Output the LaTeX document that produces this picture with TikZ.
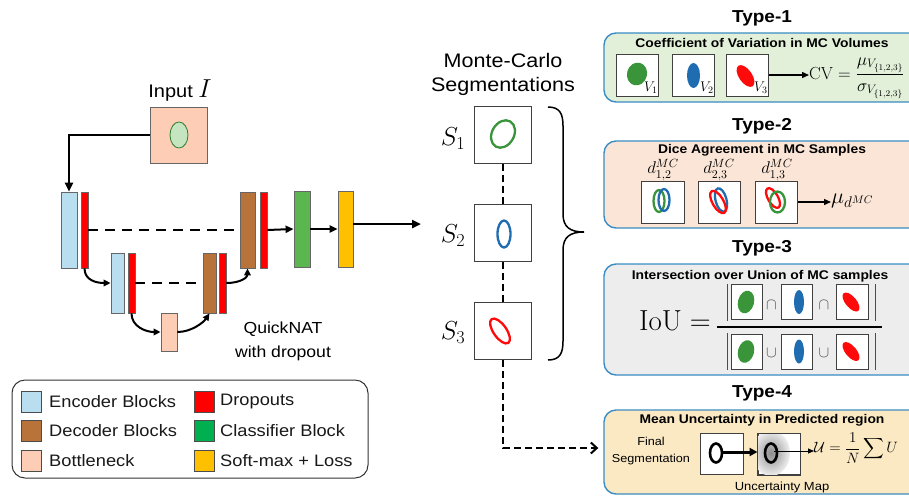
\RequirePackage{fix-cm}
\documentclass[tikz,border=0pt]{standalone}
\usepackage{amsmath}
\usepackage[no-math]{fontspec}
\setmainfont[FakeStretch=1.1]{Liberation Sans}
\usetikzlibrary{arrows.meta,calc}
\definecolor{encC}{HTML}{B8DEF0}
\definecolor{decC}{HTML}{B8733A}
\definecolor{botC}{HTML}{FDCDB5}
\definecolor{clsC}{HTML}{5CB650}
\definecolor{clsL}{HTML}{00B050}
\definecolor{smxC}{HTML}{FFC000}
\definecolor{drpC}{HTML}{FF0000}
\definecolor{ellG}{HTML}{3A943A}
\definecolor{ellB}{HTML}{1F6DB0}
\definecolor{ellR}{HTML}{FF0A0A}
\definecolor{pBord}{HTML}{3A8CC4}
\definecolor{p1C}{HTML}{E2F0D9}
\definecolor{p2C}{HTML}{FBE5D6}
\definecolor{p3C}{HTML}{EDEDED}
\definecolor{p4C}{HTML}{FBE9C4}
\definecolor{inEll}{HTML}{C5E4C0}
\begin{document}
\begin{tikzpicture}[x=1pt,y=-1pt,
  blk/.style={draw=black!60, line width=0.8pt, inner sep=0pt},
  sq/.style={draw=black!70, line width=1pt, minimum width=20pt, minimum height=21pt, inner sep=0pt},
  lg/.style={anchor=west, font=\fontsize{16.6}{19}\selectfont, inner sep=0pt, text=black!90},
  panel/.style={draw=pBord, line width=1.4pt, rounded corners=12pt, minimum width=321pt, inner sep=0pt},
  ptitle/.style={font=\bfseries\fontsize{12.6}{15}\selectfont, inner sep=0pt},
  ttl/.style={font=\bfseries\fontsize{17.3}{20}\selectfont, inner sep=0pt},
  imgbox/.style={draw=black!75, fill=white, line width=1pt, inner sep=0pt},
  arr/.style={line width=2.5pt, -{Triangle[length=9pt,width=8pt]}},
  arrm/.style={line width=2pt, -{Triangle[length=8pt,width=7pt]}},
  arrc/.style={line width=2pt, -{Triangle[length=7pt,width=6.5pt]}},
  arrp/.style={line width=1.3pt, -{Triangle[length=7pt,width=6pt]}},
  dsh/.style={line width=2.5pt, dash pattern=on 10pt off 7pt},
  dshb/.style={line width=2pt, dash pattern=on 7pt off 4pt},
  mlbl/.style={font=\fontsize{26}{26}\selectfont, inner sep=0pt},
  dlbl/.style={font=\fontsize{17}{17}\selectfont, inner sep=0pt},
  vlbl/.style={font=\fontsize{14}{14}\selectfont, inner sep=0pt},
  setop/.style={font=\fontsize{16}{16}\selectfont, text=black!70, inner sep=0pt},
  oring/.style={line width=2.3pt}
]
\clip (0,0) rectangle (909,496);
\fill[white] (0,0) rectangle (909,496);

% ---------------- network ----------------
\node[blk, fill=botC, minimum width=57pt, minimum height=56pt] (inp) at (178.5,135) {};
\draw[ellG!85!black, fill=inEll, line width=0.8pt] (179,135) ellipse (9 and 13);
\node[font=\fontsize{18.2}{20}\selectfont, inner sep=0pt] (inlbl) at (180,91) {Input {\fontsize{26}{26}\selectfont$I$}};

\node[blk, fill=encC, minimum width=16pt, minimum height=76pt] (enc1) at (69,230) {};
\node[blk, fill=drpC, minimum width=7pt, minimum height=76pt] (drop1) at (84.5,230) {};
\node[blk, fill=decC, minimum width=15pt, minimum height=76pt] (dec1) at (247.5,230) {};
\node[blk, fill=drpC, minimum width=7pt, minimum height=76pt] (drop2) at (263.5,230) {};
\node[blk, fill=clsC, minimum width=16pt, minimum height=76pt] (cls) at (302,229) {};
\node[blk, fill=smxC, minimum width=15pt, minimum height=76pt] (smx) at (345.5,229) {};
\node[blk, fill=encC, minimum width=13pt, minimum height=60pt] (enc2) at (117.5,283) {};
\node[blk, fill=drpC, minimum width=7pt, minimum height=60pt] (drop3) at (131.5,283) {};
\node[blk, fill=decC, minimum width=13pt, minimum height=60pt] (dec2) at (209.5,283) {};
\node[blk, fill=drpC, minimum width=7pt, minimum height=60pt] (drop4) at (222.5,283) {};
\node[blk, fill=botC, minimum width=16pt, minimum height=38pt] (bott) at (169,332) {};

\draw[arr] (inp.west) -| (enc1.north);
\draw[dsh] (drop1.east) -- (dec1.west);
\draw[dsh] (drop3.east) -- (dec2.west);
\draw[arrm] (drop2.east) -- (cls.west);
\draw[arrm] (cls.east) -- (smx.west);
\coordinate (netout) at (421,224);
\draw[arr] (smx.east |- netout) -- (netout);
\draw[arrc] (drop1.south) .. controls +(0,12) and +(-14,0) .. (enc2.west);
\draw[arrc] (drop3.south) .. controls +(0,13) and +(-15,0) .. (bott.west);
\draw[arrc] (bott.east) .. controls +(14,0) and +(-6,9) .. (dec2.south);
\draw[arrc] (drop4.east) .. controls +(14,0) and +(0,9) .. (dec1.south);

\node[align=center, font=\fontsize{16}{24}\selectfont, inner sep=0pt] (qn) at (283,341) {QuickNAT\\with dropout};

% ---------------- legend ----------------
\node[draw=black!80, line width=1pt, rounded corners=13pt, minimum width=356pt, minimum height=98pt] (legend) at (190,429) {};
\node[sq, fill=encC] (k1) at (31,402) {};
\node[lg] (t1) at (49,402) {Encoder Blocks};
\node[sq, fill=decC] (k2) at (31,431) {};
\node[lg] (t2) at (49,431) {Decoder Blocks};
\node[sq, fill=botC] (k3) at (31,461) {};
\node[lg] (t3) at (49,461) {Bottleneck};
\node[sq, fill=drpC] (k4) at (204,402) {};
\node[lg] (t4) at (220,402) {Dropouts};
\node[sq, fill=clsL] (k5) at (204,431) {};
\node[lg] (t5) at (220,431) {Classifier Block};
\node[sq, fill=smxC] (k6) at (204,461) {};
\node[lg] (t6) at (220,461) {Soft-max + Loss};

% ---------------- Monte-Carlo ----------------
\node[align=center, font=\fontsize{19.6}{24}\selectfont, inner sep=0pt] (mct) at (503,74) {Monte-Carlo\\Segmentations};
\node[imgbox, minimum size=57pt] (s1) at (503,135) {};
\node[imgbox, minimum size=57pt] (s2) at (503,233) {};
\node[imgbox, minimum size=57pt] (s3) at (503,331) {};
\draw[ellG, oring, rotate around={-30:(503,134)}] (503,134) ellipse (11 and 14.5);
\draw[ellB, oring] (504,234) ellipse (6.5 and 13.5);
\draw[ellR, oring, rotate around={35:(500,331)}] (500,331) ellipse (6.5 and 14.5);
\node[mlbl] (l1) at (453,139) {$S_1$};
\node[mlbl] (l2) at (453,236) {$S_2$};
\node[mlbl] (l3) at (453,333) {$S_3$};
\draw[dshb] (s1.south) -- (s2.north);
\draw[dshb] (s2.south) -- (s3.north);

% brace
\draw[line width=1.5pt] (548,107) .. controls (560,107) and (563,114) .. (563,126)
  -- (563,214) .. controls (563,227) and (570,232) .. (584,232)
  .. controls (570,232) and (563,237) .. (563,250)
  -- (563,341) .. controls (563,353) and (560,360) .. (548,360);

% ---------------- panels ----------------
\node[panel, fill=p1C, minimum height=69pt] (p1) at (764.5,67.5) {};
\node[panel, fill=p2C, minimum height=87pt] (p2) at (764.5,184.5) {};
\node[panel, fill=p3C, minimum height=111pt] (p3) at (764.5,319.5) {};
\node[panel, fill=p4C, minimum height=84pt] (p4) at (764.5,452) {};

\draw[dshb, -{Straight Barb[length=6pt,width=11pt]}] (s3.south) |- ($(p4.west)+(-5,-4)$);

\node[ttl] (ty1) at (762,18) {Type-1};
\node[ttl] (ty2) at (762,126) {Type-2};
\node[ttl] (ty3) at (762,248) {Type-3};
\node[ttl] (ty4) at (762,393) {Type-4};

% Type-1
\node[ptitle] (pt1) at (762,43) {Coefficient of Variation in MC Volumes};
\node[imgbox, minimum size=42pt] (a1) at (637,75) {};
\node[imgbox, minimum size=42pt] (a2) at (693,75) {};
\node[imgbox, minimum size=42pt] (a3) at (747,75) {};
\fill[ellG, rotate around={-15:(637,74)}] (637,74) ellipse (10 and 11.5);
\fill[ellB] (693.5,75.5) ellipse (6.5 and 12.5);
\fill[ellR, rotate around={35:(745.5,76)}] (745.5,76) ellipse (6.5 and 12.5);
\node[vlbl] (v1) at (651,88) {$V_1$};
\node[vlbl] (v2) at (707,88) {$V_2$};
\node[vlbl] (v3) at (761,88) {$V_3$};
\node[anchor=west, font=\fontsize{17.5}{20}\selectfont, inner sep=0pt] (cv) at (809,78) {$\mathrm{CV} = \dfrac{\mu_{V_{\{1,2,3\}}}}{\sigma_{V_{\{1,2,3\}}}}$};
\draw[arrp] (a3.east) -- (cv.west |- a3.east);

% Type-2
\node[ptitle] (pt2) at (762,150) {Dice Agreement in MC Samples};
\node[dlbl] (d1) at (663,170) {$d^{MC}_{1,2}$};
\node[dlbl] (d2) at (719,170) {$d^{MC}_{2,3}$};
\node[dlbl] (d3) at (777,170) {$d^{MC}_{1,3}$};
\node[imgbox, minimum width=43pt, minimum height=42pt] (b1) at (662.5,202) {};
\node[imgbox, minimum width=42pt, minimum height=42pt] (b2) at (719,202) {};
\node[imgbox, minimum width=42pt, minimum height=42pt] (b3) at (776,202) {};
\draw[ellG, oring] (659,201) ellipse (5.5 and 11);
\draw[ellB, oring] (664,200) ellipse (5.5 and 11);
\draw[ellB, oring, rotate around={15:(721,200)}] (721,200) ellipse (5.5 and 12);
\draw[ellR, oring, rotate around={30:(718,202)}] (718,202) ellipse (5.5 and 12.5);
\draw[ellR, oring, rotate around={30:(773,198)}] (773,198) ellipse (5 and 11);
\draw[ellG, oring] (777.5,202) ellipse (7.5 and 10.5);
\node[anchor=west, font=\fontsize{22}{22}\selectfont, inner sep=0pt] (mud) at (831,201) {$\mu_{d^{MC}}$};
\draw[arrp] (b3.east) -- (mud.west |- b3.east);

% Type-3
\node[ptitle] (pt3) at (760,276) {Intersection over Union of MC samples};
\node[font=\fontsize{29}{29}\selectfont, inner sep=0pt] (iou) at (675,321) {$\mathrm{IoU} =$};
\draw[line width=1.1pt] (717,327) -- (882,327);
\foreach \yy/\nm in {302/n, 351.5/d}{
  \node[imgbox, minimum width=31pt, minimum height=35pt] (\nm1) at (746.5,\yy) {};
  \node[imgbox, minimum width=31pt, minimum height=35pt] (\nm2) at (796.5,\yy) {};
  \node[imgbox, minimum width=32pt, minimum height=35pt] (\nm3) at (852,\yy) {};
  \fill[ellG, rotate around={-15:(746,\yy)}] (746,\yy) ellipse (8 and 11.5);
  \fill[ellB] (799,\yy) ellipse (5 and 12);
  \fill[ellR, rotate around={40:(851,\yy)}] (851,\yy) ellipse (5.5 and 11.5);
  \draw[black!70, line width=1pt] (727,\yy-18.5) -- (727,\yy+18.5);
  \draw[black!70, line width=1pt] (875,\yy-18.5) -- (875,\yy+18.5);
}
\node[setop] (c1) at (771.5,305) {$\cap$};
\node[setop] (c2) at (824,305) {$\cap$};
\node[setop] (u1) at (771.5,353) {$\cup$};
\node[setop] (u2) at (824,353) {$\cup$};

% Type-4
\node[ptitle] (pt4) at (762,420) {Mean Uncertainty in Predicted region};
\node[align=center, font=\fontsize{11.5}{16.5}\selectfont, inner sep=0pt] (fsl) at (651,451) {Final\\Segmentation};
\node[imgbox, minimum width=43pt, minimum height=41pt] (fs) at (721.5,454) {};
\node[imgbox, minimum width=42pt, minimum height=41pt] (um) at (779,454) {};
\begin{scope}
  \clip (um.south west) rectangle (um.north east);
  \shade[inner color=black!45, outer color=black!6] (771,453) ellipse (19 and 23);
\end{scope}
\draw[draw=black!75, line width=1pt] (um.south west) rectangle (um.north east);
\draw[black, line width=2.6pt] (716,453) ellipse (6 and 9.5);
\draw[black, line width=2.6pt] (771,453) ellipse (6 and 9.5);
\coordinate (fso) at (722,452);
\draw[line width=3pt, -{Triangle[length=8pt,width=8pt]}] (fso) -- (um.west |- fso);
\coordinate (umo) at (774,451);
\node[anchor=west, font=\fontsize{15}{16}\selectfont, inner sep=0pt] (uf) at (814,448) {$\mathcal{U} = \dfrac{1}{N}\displaystyle\sum U$};
\draw[line width=1pt, -{Triangle[length=6pt,width=5pt]}] (umo) -- (uf.west |- umo);
\node[font=\fontsize{11.8}{14}\selectfont, inner sep=0pt] (uml) at (782,487) {Uncertainty Map};
\end{tikzpicture}
\end{document}
